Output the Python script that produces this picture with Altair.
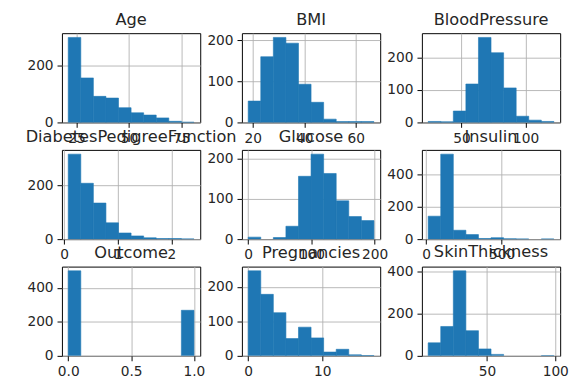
import altair as alt
import numpy as np
import pandas as pd

columns = ["Age", "BMI", "BloodPressure",
           "DiabetesPedigreeFunction", "Glucose", "Insulin",
           "Outcome", "Pregnancies", "SkinThickness"]

# value range (min, max) of each column; 10 equal bins between them
ranges = {
    "Age": (21, 81),
    "BMI": (18.2, 67.1),
    "BloodPressure": (24, 122),
    "DiabetesPedigreeFunction": (0.078, 2.42),
    "Glucose": (0, 199),
    "Insulin": (14, 846),
    "Outcome": (0, 1),
    "Pregnancies": (0, 17),
    "SkinThickness": (7, 99),
}

# counts per bin
counts = {
    "Age": [300, 157, 92, 86, 52, 34, 26, 16, 4, 1],
    "BMI": [52, 160, 207, 193, 93, 49, 8, 2, 2, 2],
    "BloodPressure": [3, 2, 35, 118, 261, 214, 106, 19, 7, 3],
    "DiabetesPedigreeFunction": [318, 209, 135, 61, 23, 12, 5, 2, 2, 1],
    "Glucose": [5, 0, 4, 32, 156, 211, 163, 95, 56, 46],
    "Insulin": [142, 526, 55, 28, 4, 9, 2, 1, 0, 1],
    "Outcome": [500, 0, 0, 0, 0, 0, 0, 0, 0, 268],
    "Pregnancies": [246, 178, 125, 50, 83, 52, 11, 19, 3, 1],
    "SkinThickness": [62, 140, 405, 120, 33, 7, 0, 0, 0, 1],
}

x_ticks = {
    "Age": [25, 50, 75],
    "BMI": [20, 40, 60],
    "BloodPressure": [50, 100],
    "DiabetesPedigreeFunction": [0, 1, 2],
    "Glucose": [0, 100, 200],
    "Insulin": [0, 500],
    "Outcome": [0.0, 0.5, 1.0],
    "Pregnancies": [0, 10],
    "SkinThickness": [50, 100],
}

y_ticks = {
    "Age": [0, 200],
    "BMI": [0, 100, 200],
    "BloodPressure": [0, 100, 200],
    "DiabetesPedigreeFunction": [0, 200],
    "Glucose": [0, 100, 200],
    "Insulin": [0, 200, 400],
    "Outcome": [0, 200, 400],
    "Pregnancies": [0, 100, 200],
    "SkinThickness": [0, 200, 400],
}

x_format = {"Outcome": ".1f"}


def panel(name):
    lo, hi = ranges[name]
    edges = np.linspace(lo, hi, 11)
    df = pd.DataFrame({"start": edges[:-1], "end": edges[1:], "count": counts[name]})
    df = df[df["count"] > 0]
    pad = (hi - lo) * 0.05
    ymax = max(counts[name]) * 1.05
    return alt.Chart(df, title=name).mark_rect(
        color="#1f77b4", stroke="#1f77b4", strokeWidth=0.6, clip=True
    ).encode(
        x=alt.X("start:Q",
                scale=alt.Scale(domain=[lo - pad, hi + pad], nice=False, zero=False),
                axis=alt.Axis(values=x_ticks[name], title=None,
                              format=x_format.get(name, "d"))),
        x2="end:Q",
        y=alt.Y("count:Q",
                scale=alt.Scale(domain=[0, ymax], nice=False, zero=True),
                axis=alt.Axis(values=y_ticks[name], title=None, format="d")),
        y2=alt.datum(0),
    ).properties(width=141, height=91)


chart = alt.concat(
    *[panel(c) for c in columns],
    columns=3,
    spacing={"row": 28, "column": 42.5},
    bounds="flush",
).properties(
    padding={"left": 17, "top": 0, "right": 0, "bottom": 0},
    background="white",
).configure_view(
    stroke="black", strokeWidth=1
).configure_axis(
    domain=False,
    tickSize=5,
    tickColor="black",
    tickWidth=1,
    labelPadding=4,
    labelFontSize=14,
    labelFont="DejaVu Sans",
    labelColor="#262626",
    labelFlush=False,
    labelOverlap=False,
    grid=True,
    gridColor="#b0b0b0",
    gridWidth=0.9,
    zindex=1,
).configure_title(
    font="DejaVu Sans",
    fontSize=16.5,
    fontWeight="normal",
    color="#262626",
    offset=5,
    anchor="middle",
)

chart.save("out.html", embed_options={"renderer": "svg", "actions": False})
